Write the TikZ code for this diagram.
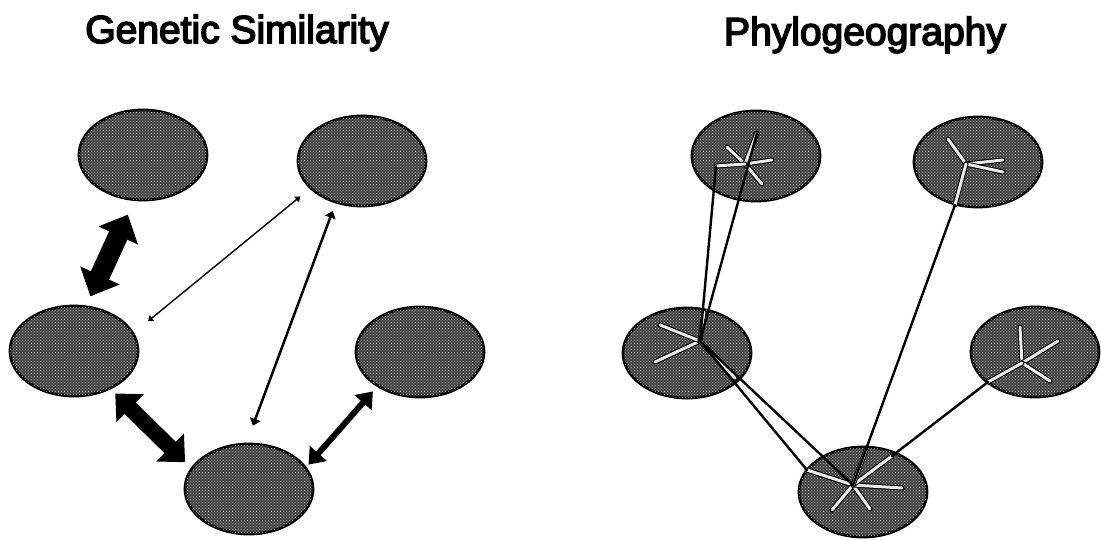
\documentclass[tikz,border=0pt]{standalone}
\usepackage{fontspec}
\setmainfont{Liberation Sans}
\newfontfamily\headfont{Liberation Sans}[FakeBold=4]
\usepackage{tikz}
\usetikzlibrary{shapes.geometric, arrows.meta, patterns}

\tikzset{
  pop/.style={ellipse, draw=black, line width=2.8pt, fill=black!74,
    postaction={pattern=crosshatch dots, pattern color=gray!60},
    minimum width=128pt, minimum height=90pt, inner sep=0pt},
  heading/.style={font=\headfont\fontsize{39}{47}\selectfont, anchor=base},
  fatlink/.style={line width=20pt, {Triangle[width=42pt,length=23pt]}-{Triangle[width=42pt,length=23pt]}},
  widelink/.style={line width=16pt, {Triangle[width=38pt,length=21pt]}-{Triangle[width=38pt,length=21pt]}},
  midlink/.style={line width=6pt, {Triangle[width=22pt,length=15pt]}-{Triangle[width=22pt,length=15pt]}},
  thinlink/.style={line width=2.5pt, {Triangle[width=11pt,length=7pt]}-{Triangle[width=11pt,length=7pt]}},
  hairlink/.style={line width=1.4pt, {Triangle[width=7pt,length=5pt]}-{Triangle[width=7pt,length=5pt]}},
  branch/.style={draw=black, line width=1pt, double=white!85!gray, double distance=3pt, line cap=round},
  geoline/.style={draw=black, line width=2.4pt, line cap=round}
}

\begin{document}
\begin{tikzpicture}[x=1pt, y=-1pt]
  \useasboundingbox (0,0) rectangle (1101,540);

  % titles
  \node[heading] (tsim) at (237,43) {Genetic Similarity};
  \node[heading] (tphy) at (865,45) {Phylogeography};

  % genetic similarity: populations
  \node[pop] (sa) at (143,155) {};
  \node[pop] (sb) at (362,161) {};
  \node[pop] (sc) at (74,351) {};
  \node[pop] (sd) at (420,352) {};
  \node[pop] (se) at (249,489) {};

  \draw[fatlink, shorten <=10pt, shorten >=15pt] (sc.75) -- (sa.259);
  \draw[widelink, shorten <=6pt, shorten >=8pt] (sc.314) -- (se.160);
  \draw[midlink, shorten <=3pt, shorten >=6pt] (se.21) -- (sd.219);
  \draw[thinlink, shorten <=18pt, shorten >=8pt] (se.93) -- (sb.238);
  \draw[hairlink, shorten <=18pt, shorten >=12pt] (sc.17) -- (sb.208);

  % phylogeography: populations with gene trees
  \node[pop] (pa) at (756,156) {};
  \node[pop] (pb) at (978,162) {};
  \node[pop] (pc) at (687,353) {};
  \node[pop] (pd) at (1035,352) {};
  \node[pop] (pe) at (863,492) {};

  \coordinate (ha) at (745,164);
  \coordinate (hb) at (966,164);
  \coordinate (hc) at (700,341);
  \coordinate (hd) at (1022,363);
  \coordinate (he) at (853,485);
  \coordinate (ta1) at (716,166);
  \coordinate (ta2) at (757,133);
  \coordinate (tb) at (955,205);
  \coordinate (td) at (988,382);
  \coordinate (te1) at (807,470);
  \coordinate (te2) at (892,456);

  \foreach \t in {(727,147), (772,160), (762,184), (ta2), (ta1)}
    \draw[branch] (ha) -- \t;
  \foreach \t in {(948,139), (1003,160), (1003,172), (tb)}
    \draw[branch] (hb) -- \t;
  \foreach \t in {(655,362), (660,325), (704,312), (735,378)}
    \draw[branch] (hc) -- \t;
  \foreach \t in {(1020,327), (1058,341), (1050,381), (td)}
    \draw[branch] (hd) -- \t;
  \foreach \t in {(te1), (832,510), (870,509), (902,488), (te2), (866,450)}
    \draw[branch] (he) -- \t;

  \draw[geoline] (hc) -- (ta1);
  \draw[geoline] (hc) -- (ta2);
  \draw[geoline] (hc) -- (he);
  \draw[geoline] (hc) -- (te1);
  \draw[geoline] (tb) -- (he);
  \draw[geoline] (td) -- (te2);
\end{tikzpicture}
\end{document}
